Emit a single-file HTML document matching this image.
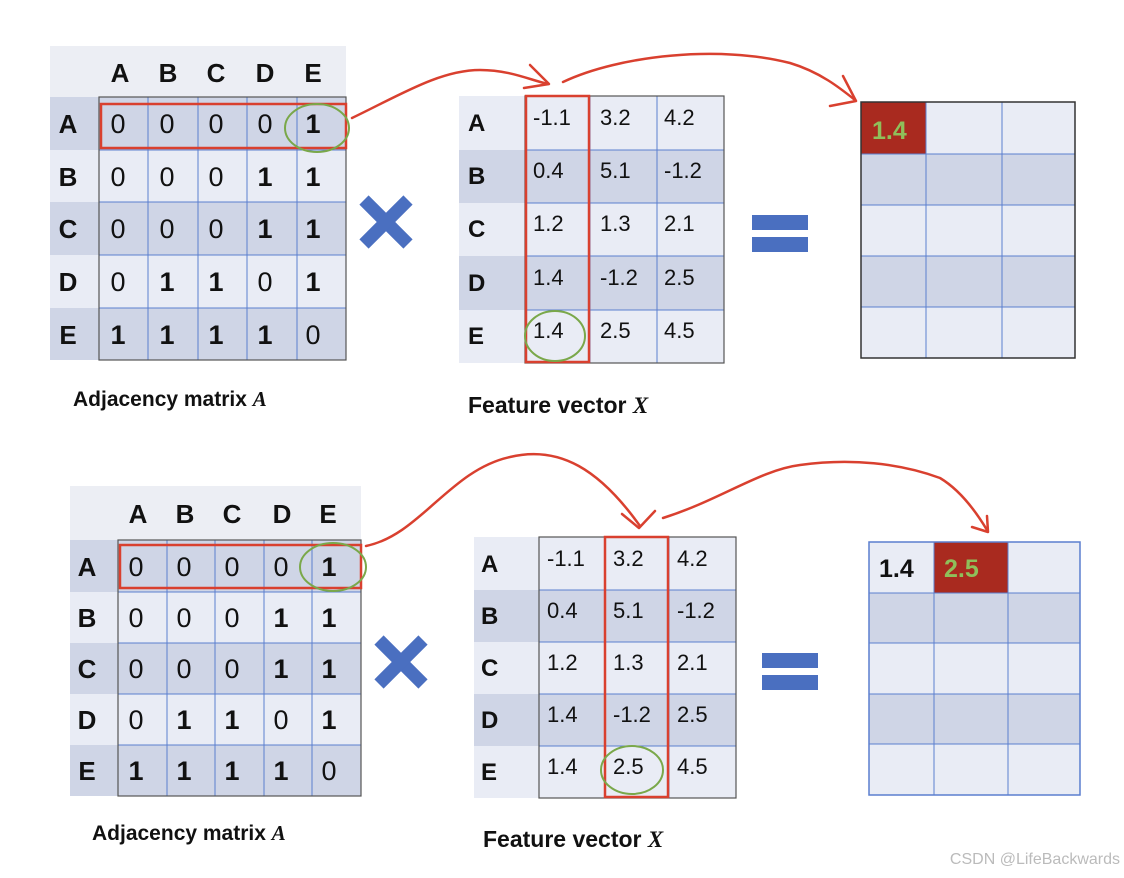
<!DOCTYPE html>
<html><head><meta charset="utf-8"><style>
html,body{margin:0;padding:0;background:#fff;}
svg{display:block;}
text{font-family:"Liberation Sans",sans-serif;}
.l{font-weight:bold;font-size:26px;fill:#111;}
.v{font-size:27px;fill:#111;}
.b{font-size:27px;font-weight:bold;fill:#111;}
.f{font-size:22px;fill:#111;}
.fl{font-weight:bold;font-size:24px;fill:#111;}
.g{stroke:#5b7fcf;stroke-width:1;fill:none;}
.red{stroke:#d9402f;stroke-width:2.5;fill:none;stroke-linecap:round;stroke-linejoin:round;}
</style></head><body>
<svg width="1124" height="878" viewBox="0 0 1124 878" xmlns="http://www.w3.org/2000/svg">
<!-- ===== TOP ADJACENCY ===== -->
<rect x="50" y="46" width="296" height="51" fill="#eceef4"/>
<rect x="50" y="97" width="296" height="53" fill="#cfd5e6"/>
<rect x="50" y="150" width="296" height="52" fill="#e9ecf5"/>
<rect x="50" y="202" width="296" height="53" fill="#cfd5e6"/>
<rect x="50" y="255" width="296" height="53" fill="#e9ecf5"/>
<rect x="50" y="308" width="296" height="52" fill="#cfd5e6"/>
<g class="g">
<line x1="148" y1="97" x2="148" y2="360"/><line x1="198" y1="97" x2="198" y2="360"/><line x1="247" y1="97" x2="247" y2="360"/><line x1="297" y1="97" x2="297" y2="360"/>
<line x1="99" y1="150" x2="346" y2="150"/><line x1="99" y1="202" x2="346" y2="202"/><line x1="99" y1="255" x2="346" y2="255"/><line x1="99" y1="308" x2="346" y2="308"/>
</g>
<rect x="99" y="97" width="247" height="263" fill="none" stroke="#555" stroke-width="1.2"/>
<g class="l" text-anchor="middle">
<text x="120" y="82">A</text><text x="168" y="82">B</text><text x="216" y="82">C</text><text x="265" y="82">D</text><text x="313" y="82">E</text>
<text x="68" y="133">A</text><text x="68" y="186">B</text><text x="68" y="238">C</text><text x="68" y="291">D</text><text x="68" y="344">E</text>
</g>
<g text-anchor="middle">
<text class="v" x="118" y="133">0</text><text class="v" x="167" y="133">0</text><text class="v" x="216" y="133">0</text><text class="v" x="265" y="133">0</text><text class="b" x="313" y="133">1</text>
<text class="v" x="118" y="186">0</text><text class="v" x="167" y="186">0</text><text class="v" x="216" y="186">0</text><text class="b" x="265" y="186">1</text><text class="b" x="313" y="186">1</text>
<text class="v" x="118" y="238">0</text><text class="v" x="167" y="238">0</text><text class="v" x="216" y="238">0</text><text class="b" x="265" y="238">1</text><text class="b" x="313" y="238">1</text>
<text class="v" x="118" y="291">0</text><text class="b" x="167" y="291">1</text><text class="b" x="216" y="291">1</text><text class="v" x="265" y="291">0</text><text class="b" x="313" y="291">1</text>
<text class="b" x="118" y="344">1</text><text class="b" x="167" y="344">1</text><text class="b" x="216" y="344">1</text><text class="b" x="265" y="344">1</text><text class="v" x="313" y="344">0</text>
</g>
<rect x="101" y="104" width="245" height="44" fill="none" stroke="#d9402f" stroke-width="2.5"/>
<ellipse cx="317" cy="128" rx="32" ry="24" fill="none" stroke="#7aa84a" stroke-width="2"/>
<text x="73" y="406" style="font-size:21px;font-weight:bold;fill:#111">Adjacency matrix <tspan font-family="Liberation Serif" font-style="italic">A</tspan></text>

<!-- X top -->
<g stroke="#4a6fc0" stroke-width="13" stroke-linecap="butt"><line x1="364" y1="200" x2="408" y2="244"/><line x1="408" y1="200" x2="364" y2="244"/></g>

<!-- ===== TOP FEATURE ===== -->
<rect x="459" y="96" width="265" height="54" fill="#e9ecf5"/>
<rect x="459" y="150" width="265" height="53" fill="#cfd5e6"/>
<rect x="459" y="203" width="265" height="53" fill="#e9ecf5"/>
<rect x="459" y="256" width="265" height="54" fill="#cfd5e6"/>
<rect x="459" y="310" width="265" height="53" fill="#e9ecf5"/>
<g class="g">
<line x1="590" y1="96" x2="590" y2="363"/><line x1="657" y1="96" x2="657" y2="363"/>
<line x1="525" y1="150" x2="724" y2="150"/><line x1="525" y1="203" x2="724" y2="203"/><line x1="525" y1="256" x2="724" y2="256"/><line x1="525" y1="310" x2="724" y2="310"/>
</g>
<rect x="525" y="96" width="199" height="267" fill="none" stroke="#555" stroke-width="1.2"/>
<g class="fl"><text x="468" y="131">A</text><text x="468" y="184">B</text><text x="468" y="237">C</text><text x="468" y="291">D</text><text x="468" y="344">E</text></g>
<g class="f">
<text x="533" y="125">-1.1</text><text x="600" y="125">3.2</text><text x="664" y="125">4.2</text>
<text x="533" y="178">0.4</text><text x="600" y="178">5.1</text><text x="664" y="178">-1.2</text>
<text x="533" y="231">1.2</text><text x="600" y="231">1.3</text><text x="664" y="231">2.1</text>
<text x="533" y="285">1.4</text><text x="600" y="285">-1.2</text><text x="664" y="285">2.5</text>
<text x="533" y="338">1.4</text><text x="600" y="338">2.5</text><text x="664" y="338">4.5</text>
</g>
<rect x="526" y="96" width="63" height="266" fill="none" stroke="#d9402f" stroke-width="2.5"/>
<ellipse cx="555" cy="336" rx="30" ry="25" fill="none" stroke="#7aa84a" stroke-width="2"/>
<text x="468" y="413" style="font-size:23px;font-weight:bold;fill:#111">Feature vector <tspan font-family="Liberation Serif" font-style="italic">X</tspan></text>

<!-- = top -->
<rect x="752" y="215" width="56" height="15" fill="#4a6fc0"/><rect x="752" y="237" width="56" height="15" fill="#4a6fc0"/>

<!-- ===== TOP RESULT ===== -->
<rect x="861" y="102" width="214" height="52" fill="#e9ecf5"/>
<rect x="861" y="154" width="214" height="51" fill="#cfd5e6"/>
<rect x="861" y="205" width="214" height="51" fill="#e9ecf5"/>
<rect x="861" y="256" width="214" height="51" fill="#cfd5e6"/>
<rect x="861" y="307" width="214" height="51" fill="#e9ecf5"/>
<rect x="861" y="102" width="65" height="52" fill="#a92a1f"/>
<g class="g">
<line x1="926" y1="102" x2="926" y2="358"/><line x1="1002" y1="102" x2="1002" y2="358"/>
<line x1="861" y1="154" x2="1075" y2="154"/><line x1="861" y1="205" x2="1075" y2="205"/><line x1="861" y1="256" x2="1075" y2="256"/><line x1="861" y1="307" x2="1075" y2="307"/>
</g>
<rect x="861" y="102" width="214" height="256" fill="none" stroke="#333" stroke-width="1.5"/>
<text x="872" y="139" style="font-size:25px;font-weight:bold;fill:#8fbf5a">1.4</text>

<!-- top arrows -->
<path class="red" d="M352,118 C400,95 440,70 480,70 C510,70 530,80 548,84"/>
<path class="red" d="M530,65 L549,84 L524,88"/>
<path class="red" d="M563,82 C620,55 720,45 790,63 C820,72 840,88 855,100"/>
<path class="red" d="M843,76 L856,101 L830,106"/>

<!-- ===== BOTTOM ADJACENCY ===== -->
<rect x="70" y="486" width="291" height="54" fill="#eceef4"/>
<rect x="70" y="540" width="291" height="52" fill="#cfd5e6"/>
<rect x="70" y="592" width="291" height="51" fill="#e9ecf5"/>
<rect x="70" y="643" width="291" height="51" fill="#cfd5e6"/>
<rect x="70" y="694" width="291" height="51" fill="#e9ecf5"/>
<rect x="70" y="745" width="291" height="51" fill="#cfd5e6"/>
<g class="g">
<line x1="167" y1="540" x2="167" y2="796"/><line x1="215" y1="540" x2="215" y2="796"/><line x1="264" y1="540" x2="264" y2="796"/><line x1="312" y1="540" x2="312" y2="796"/>
<line x1="118" y1="592" x2="361" y2="592"/><line x1="118" y1="643" x2="361" y2="643"/><line x1="118" y1="694" x2="361" y2="694"/><line x1="118" y1="745" x2="361" y2="745"/>
</g>
<rect x="118" y="540" width="243" height="256" fill="none" stroke="#555" stroke-width="1.2"/>
<g class="l" text-anchor="middle">
<text x="138" y="523">A</text><text x="185" y="523">B</text><text x="232" y="523">C</text><text x="282" y="523">D</text><text x="328" y="523">E</text>
<text x="87" y="576">A</text><text x="87" y="627">B</text><text x="87" y="678">C</text><text x="87" y="729">D</text><text x="87" y="780">E</text>
</g>
<g text-anchor="middle">
<text class="v" x="136" y="576">0</text><text class="v" x="184" y="576">0</text><text class="v" x="232" y="576">0</text><text class="v" x="281" y="576">0</text><text class="b" x="329" y="576">1</text>
<text class="v" x="136" y="627">0</text><text class="v" x="184" y="627">0</text><text class="v" x="232" y="627">0</text><text class="b" x="281" y="627">1</text><text class="b" x="329" y="627">1</text>
<text class="v" x="136" y="678">0</text><text class="v" x="184" y="678">0</text><text class="v" x="232" y="678">0</text><text class="b" x="281" y="678">1</text><text class="b" x="329" y="678">1</text>
<text class="v" x="136" y="729">0</text><text class="b" x="184" y="729">1</text><text class="b" x="232" y="729">1</text><text class="v" x="281" y="729">0</text><text class="b" x="329" y="729">1</text>
<text class="b" x="136" y="780">1</text><text class="b" x="184" y="780">1</text><text class="b" x="232" y="780">1</text><text class="b" x="281" y="780">1</text><text class="v" x="329" y="780">0</text>
</g>
<rect x="120" y="545" width="241" height="43" fill="none" stroke="#d9402f" stroke-width="2.5"/>
<ellipse cx="333" cy="567" rx="33" ry="24" fill="none" stroke="#7aa84a" stroke-width="2"/>
<text x="92" y="840" style="font-size:21px;font-weight:bold;fill:#111">Adjacency matrix <tspan font-family="Liberation Serif" font-style="italic">A</tspan></text>

<!-- X bottom -->
<g stroke="#4a6fc0" stroke-width="13"><line x1="379" y1="640" x2="423" y2="684"/><line x1="423" y1="640" x2="379" y2="684"/></g>

<!-- ===== BOTTOM FEATURE ===== -->
<rect x="474" y="537" width="262" height="53" fill="#e9ecf5"/>
<rect x="474" y="590" width="262" height="52" fill="#cfd5e6"/>
<rect x="474" y="642" width="262" height="52" fill="#e9ecf5"/>
<rect x="474" y="694" width="262" height="52" fill="#cfd5e6"/>
<rect x="474" y="746" width="262" height="52" fill="#e9ecf5"/>
<g class="g">
<line x1="605" y1="537" x2="605" y2="798"/><line x1="669" y1="537" x2="669" y2="798"/>
<line x1="539" y1="590" x2="736" y2="590"/><line x1="539" y1="642" x2="736" y2="642"/><line x1="539" y1="694" x2="736" y2="694"/><line x1="539" y1="746" x2="736" y2="746"/>
</g>
<rect x="539" y="537" width="197" height="261" fill="none" stroke="#555" stroke-width="1.2"/>
<g class="fl"><text x="481" y="572">A</text><text x="481" y="624">B</text><text x="481" y="676">C</text><text x="481" y="728">D</text><text x="481" y="780">E</text></g>
<g class="f">
<text x="547" y="566">-1.1</text><text x="613" y="566">3.2</text><text x="677" y="566">4.2</text>
<text x="547" y="618">0.4</text><text x="613" y="618">5.1</text><text x="677" y="618">-1.2</text>
<text x="547" y="670">1.2</text><text x="613" y="670">1.3</text><text x="677" y="670">2.1</text>
<text x="547" y="722">1.4</text><text x="613" y="722">-1.2</text><text x="677" y="722">2.5</text>
<text x="547" y="774">1.4</text><text x="613" y="774">2.5</text><text x="677" y="774">4.5</text>
</g>
<rect x="605" y="537" width="63" height="260" fill="none" stroke="#d9402f" stroke-width="2.5"/>
<ellipse cx="632" cy="770" rx="31" ry="24" fill="none" stroke="#7aa84a" stroke-width="2"/>
<text x="483" y="847" style="font-size:23px;font-weight:bold;fill:#111">Feature vector <tspan font-family="Liberation Serif" font-style="italic">X</tspan></text>

<!-- = bottom -->
<rect x="762" y="653" width="56" height="15" fill="#4a6fc0"/><rect x="762" y="675" width="56" height="15" fill="#4a6fc0"/>

<!-- ===== BOTTOM RESULT ===== -->
<rect x="869" y="542" width="211" height="51" fill="#e9ecf5"/>
<rect x="869" y="593" width="211" height="50" fill="#cfd5e6"/>
<rect x="869" y="643" width="211" height="51" fill="#e9ecf5"/>
<rect x="869" y="694" width="211" height="50" fill="#cfd5e6"/>
<rect x="869" y="744" width="211" height="51" fill="#e9ecf5"/>
<rect x="934" y="542" width="74" height="51" fill="#a92a1f"/>
<g class="g">
<line x1="934" y1="542" x2="934" y2="795"/><line x1="1008" y1="542" x2="1008" y2="795"/>
<line x1="869" y1="593" x2="1080" y2="593"/><line x1="869" y1="643" x2="1080" y2="643"/><line x1="869" y1="694" x2="1080" y2="694"/><line x1="869" y1="744" x2="1080" y2="744"/>
</g>
<rect x="869" y="542" width="211" height="253" fill="none" stroke="#5b7fcf" stroke-width="1.5"/>
<text x="879" y="577" style="font-size:25px;font-weight:bold;fill:#111">1.4</text>
<text x="944" y="577" style="font-size:25px;font-weight:bold;fill:#8fbf5a">2.5</text>

<!-- bottom arrows -->
<path class="red" d="M366,546 C420,535 450,470 510,457 C560,445 600,470 640,526"/>
<path class="red" d="M622,514 L639,528 L655,511"/>
<path class="red" d="M663,518 C720,500 760,470 800,465 C850,458 900,463 940,478 C960,490 975,510 987,530"/>
<path class="red" d="M972,527 L988,532 L987,516"/>

<text x="1120" y="864" text-anchor="end" style="font-size:16px;fill:#bbbbbb">CSDN @LifeBackwards</text>
</svg>
</body></html>
